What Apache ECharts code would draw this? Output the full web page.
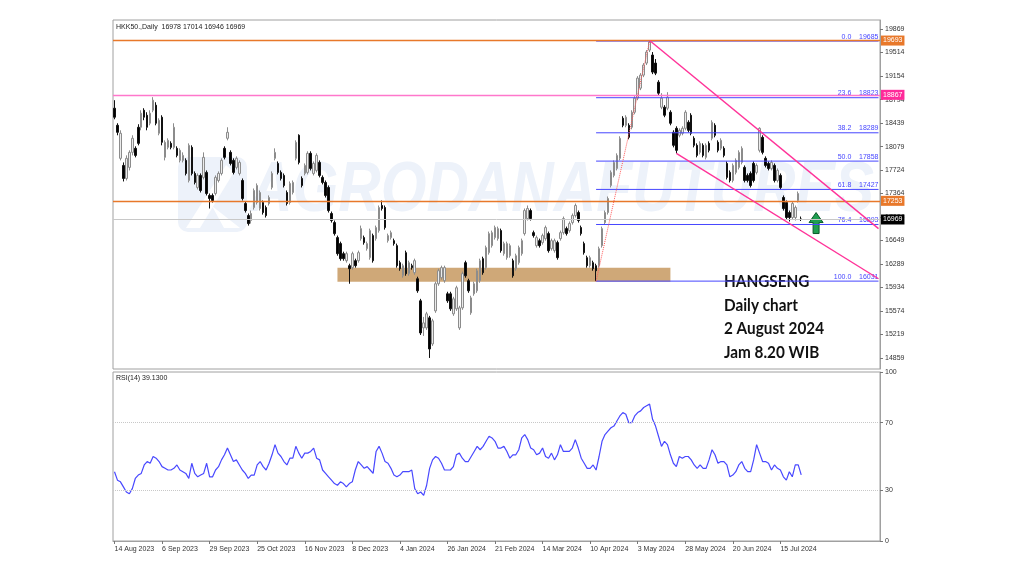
<!DOCTYPE html>
<html>
<head>
<meta charset="utf-8">
<script src="https://cdn.jsdelivr.net/npm/echarts@6/dist/echarts.min.js"></script>
<style>
  html, body { margin: 0; padding: 0; background: #fff; }
  #chart { width: 1024px; height: 576px; }
</style>
</head>
<body>
<div id="chart"></div>
<script>
// HK50 daily bars, [open, close, low, high]
const candles = [
  [18663,18526,18495,18785],[18403,18296,18251,18434],[17900,18281,17869,18327],[17792,17594,17548,17838],
  [17594,17900,17563,17945],[17762,17991,17716,18022],[17991,18205,17945,18251],[18052,17945,17915,18083],
  [18373,18128,18098,18419],[18373,18587,18327,18632],[18632,18526,18480,18663],[18556,18373,18327,18602],
  [18434,18587,18403,18632],[18632,18785,18602,18831],[18709,18434,18403,18754],[18281,18480,18251,18510],
  [18526,18144,18098,18556],[17915,18144,17869,18174],[18067,18174,18037,18205],[18128,18067,18037,18159],
  [18067,18373,18037,18434],[18052,17945,17915,18083],[17869,18022,17838,18052],[17869,17945,17838,17991],
  [17869,17670,17640,17900],[17563,18098,17533,18128],[18067,17670,17640,18098],[17670,17533,17503,17701],
  [17457,17640,17426,17670],[17640,17411,17380,17670],[17610,17915,17579,17991],[17686,17365,17335,17716],
  [17335,17289,17136,17365],[17335,17258,17227,17365],[17365,17610,17335,17640],[17563,17670,17533,17701],
  [17670,17869,17640,17900],[18052,17915,17884,18083],[18205,18296,18174,18373],[17991,17822,17792,18022],
  [17869,17686,17655,17900],[17762,17900,17731,17930],[17670,17838,17640,17869],[17563,17289,17258,17594],
  [17212,17105,17075,17243],[17029,16907,16876,17060],[16953,17060,16907,17105],[17151,17411,17120,17441],
  [17227,17487,17197,17518],[17136,17380,17105,17411],[17227,17075,17044,17258],[17151,17029,16999,17182],
  [17212,17304,17182,17335],[17457,17670,17426,17701],[17900,17991,17869,18052],[17822,17686,17655,17853],
  [17686,17594,17563,17716],[17640,17487,17457,17670],[17380,17212,17182,17411],[17227,17518,17197,17548],
  [17380,17533,17350,17563],[17900,18144,17869,18174],[18251,17838,17808,18266],[17594,17487,17457,17625],
  [17670,17792,17640,17822],[17686,17976,17655,18007],[17976,17746,17716,18007],[17670,17822,17640,17853],
  [17716,17945,17686,17976],[17838,17640,17610,17869],[17610,17533,17503,17640],[17533,17335,17304,17563],
  [17457,17105,17075,17487],[17060,16953,16922,17090],[16922,16754,16724,16953],[16693,16449,16418,16724],
  [16602,16373,16342,16632],[16449,16373,16342,16479],[16342,16449,16312,16479],[16266,16220,15991,16296],
  [16236,16449,16205,16479],[16342,16266,16236,16373],[16342,16464,16312,16495],[16678,16830,16647,16876],
  [16693,16617,16586,16724],[16525,16602,16495,16632],[16388,16800,16357,16830],[16724,16342,16312,16754],
  [16678,16846,16647,16876],[16800,17151,16769,17182],[17182,17136,17105,17258],[17151,16846,16815,17182],
  [16647,16724,16617,16754],[16693,16769,16663,16800],[16647,16602,16571,16678],[16571,16266,16236,16602],
  [16312,16220,16189,16342],[16113,16266,16083,16296],[16464,16144,16113,16495],[16144,16312,16113,16342],
  [16266,16236,16205,16296],[16159,16342,16128,16373],[16067,15884,15853,16098],[15731,15242,15211,15761],
  [15319,15395,15196,15486],[15319,15533,15288,15563],[15472,14998,14861,15502],[15074,15426,15044,15457],
  [15578,15991,15548,16022],[15991,16189,15960,16220],[16083,16236,16052,16266],[16037,16236,16006,16266],
  [15838,15731,15700,15869],[15838,15609,15578,15869],[15533,15761,15502,15792],[15609,15930,15578,15960],
  [15319,15624,15288,15655],[15624,16144,15594,16175],[16312,16113,16083,16342],[16037,15884,15853,16067],
  [15548,15776,15518,15808],[15838,15991,15808,16022],[15884,16189,15853,16220],[16037,16342,16006,16373],
  [16373,16159,16128,16403],[16236,16541,16205,16571],[16464,16754,16434,16785],[16571,16769,16541,16800],
  [16693,16846,16663,16876],[16678,16830,16647,16861],[16800,16495,16464,16830],[16449,16602,16418,16632],
  [16388,16602,16357,16632],[16418,16571,16388,16602],[16342,16113,16083,16373],[16220,16418,16189,16449],
  [16312,16541,16281,16571],[16449,16647,16418,16678],[16754,17105,16724,17136],[16983,17136,16953,17182],
  [17105,16983,16953,17136],[16769,16724,16693,16800],[16571,16693,16541,16724],[16647,16571,16541,16678],
  [16617,16724,16586,16754],[16678,16846,16647,16876],[16754,16495,16464,16785],[16525,16647,16495,16678],
  [16495,16647,16464,16678],[16617,16388,16357,16647],[16678,16769,16647,16800],[16769,16983,16739,17014],
  [16830,16754,16724,16861],[16800,16907,16769,16938],[16922,17029,16892,17060],[17029,17182,16999,17212],
  [17075,16953,16922,17105],[16846,16754,16724,16876],[16602,16464,16434,16632],[16388,16266,16236,16418],
  [16266,16388,16236,16418],[16312,16220,16189,16342],[16266,16189,16031,16296],[16266,16525,16236,16556],
  [16571,16830,16541,16861],[16922,17075,16892,17105],[17075,17289,17044,17319],[17487,17686,17457,17716],
  [17640,17838,17610,17869],[17746,17945,17716,17976],[17900,18205,17869,18236],[18510,18403,18373,18541],
  [18403,18526,18373,18556],[18403,18220,18190,18434],[18373,18602,18342,18632],[18602,18816,18571,18846],
  [18816,19121,18785,19151],[18968,19167,18938,19197],[19167,19320,19136,19350],[19350,19518,19320,19548],
  [19548,19671,19518,19693],[19472,19213,19182,19518],[19350,19197,19167,19411],[19060,18892,18861,19090],
  [18678,18816,18648,18892],[18678,18556,18526,18709],[18663,18831,18632,18907],[18602,18434,18403,18632],
  [18296,18098,18067,18327],[18357,18022,17976,18388],[18251,18327,18220,18357],[18281,18357,18251,18388],
  [18357,18602,18327,18632],[18449,18327,18296,18480],[18556,18281,18251,18587],[18205,18098,18067,18236],
  [18098,17945,17915,18128],[17991,18128,17960,18159],[18098,17945,17915,18128],[17915,18098,17884,18128],
  [18128,18022,17991,18159],[18205,18449,18174,18480],[18403,18251,18220,18434],[18144,18022,17991,18174],
  [18052,18174,18022,18205],[18052,17945,17915,18083],[17822,17610,17579,17853],[17686,17563,17533,17716],
  [17563,17792,17533,17822],[17686,17869,17655,17900],[17762,17991,17731,18022],[17838,18052,17808,18083],
  [17762,17563,17533,17792],[17640,17563,17533,17670],[17670,17487,17457,17701],[17822,17563,17533,17853],
  [17686,17792,17655,17822],[18022,18357,17991,18373],[18220,17991,17960,18251],[17900,17792,17762,17930],
  [17822,17746,17716,17853],[17746,17838,17716,17869],[17792,17563,17533,17822],[17563,17716,17533,17746],
  [17640,17457,17426,17670],[17304,17136,17105,17335],[17227,16999,16968,17258],[17075,16999,16938,17105],
  [16999,17212,16968,17243],[16999,17151,16953,17182],[17258,17365,17227,17395],[16978,16969,16946,17014]
];

// RSI(14), one value per bar
const rsiValues = [
  41,36,35,32,29,28,31,37,39,40, 45,47,46,50,49,47,44,43,42,42,
  43,45,42,41,40,37,46,40,38,39, 40,46,38,38,42,44,48,51,55,51,
  47,48,45,42,40,37,39,39,45,47, 44,42,46,51,57,52,50,47,45,49,
  49,56,52,49,52,52,53,55,49,48, 42,40,38,36,34,33,35,34,32,34,
  35,42,47,45,43,44,42,40,53,56, 52,47,46,43,39,38,39,41,41,41,
  42,31,28,29,27,33,43,48,50,49, 46,42,42,42,44,51,52,49,47,47,
  50,53,56,54,56,59,62,61,59,55, 55,56,53,49,51,51,54,61,63,60,
  55,54,51,52,55,50,49,52,48,51, 57,53,53,53,55,60,55,49,46,43,
  43,45,42,50,59,63,65,67,68,71, 74,76,75,70,70,74,76,77,79,80,
  81,72,68,62,56,59,57,51,46,44, 50,49,50,50,48,45,43,45,43,43,
  48,54,51,46,47,47,45,38,39,41, 45,47,43,41,41,48,57,52,47,47,
  46,42,45,43,42,38,36,41,38,45, 45,39.13
];

const dateLabels = ['14 Aug 2023', '6 Sep 2023', '29 Sep 2023', '25 Oct 2023', '16 Nov 2023',
  '8 Dec 2023', '4 Jan 2024', '26 Jan 2024', '21 Feb 2024', '14 Mar 2024', '10 Apr 2024',
  '3 May 2024', '28 May 2024', '20 Jun 2024', '15 Jul 2024'];
const priceTicks = [19869, 19514, 19154, 18794, 18439, 18079, 17724, 17364, 17004,
  16649, 16289, 15934, 15574, 15219, 14859];
const rsiTicks = [100, 70, 30, 0];
const rsiLevels = [70, 30];

// drawn objects
const levelLines = [19693, 18867, 17253, 16969];
const fibRatios = ['0.0', '23.6', '38.2', '50.0', '61.8', '76.4', '100.0'];
const fibPrices = [19685, 18823, 18289, 17858, 17427, 16893, 16031];
const fibStart = 162;
const fibTop = 180;
const upperChannel = [[180, 19693], [257, 16830]];
const lowerChannel = [[189, 17976], [257, 16067]];
const supportZone = [[75, 16236], [187, 16022]];
const arrowTip = [236, 17075];

const totalSlots = 258;   // bars plus empty space on the right
const labelEvery = 16;
const slots = [];
for (let i = 0; i < totalSlots; i++) slots.push(String(i));

const FONT = '"Liberation Sans", Arial, sans-serif';
const ORANGE = '#e8782a';
const FIB = '#4646ff';

function level(value, lineColor, tagColor, width) {
    return {
        yAxis: value,
        lineStyle: { color: lineColor, width: width, type: 'solid' },
        label: {
            show: true, position: 'end', distance: 1, formatter: String(value),
            backgroundColor: tagColor, color: '#fff', fontSize: 7, fontFamily: FONT,
            padding: [2, 2, 1, 2]
        }
    };
}

const markLines = [
    level(levelLines[0], ORANGE, ORANGE, 1.3),
    level(levelLines[1], '#ff77cc', '#ff2a9a', 1.3),
    level(levelLines[2], ORANGE, ORANGE, 1.3),
    level(levelLines[3], '#c8c8c8', '#000', 1)
];
markLines.push([
    { coord: [fibStart, fibPrices[6]], lineStyle: { color: '#ff5a5a', width: 1, type: 'dotted' }, label: { show: false } },
    { coord: [fibTop, fibPrices[0]] }
]);
[upperChannel, lowerChannel].forEach(function (c) {
    markLines.push([
        { coord: c[0], lineStyle: { color: '#ff3399', width: 1.4, type: 'solid' }, label: { show: false } },
        { coord: c[1] }
    ]);
});

// fibonacci levels as short line series from the swing low to the right edge
const fibSeries = fibPrices.map(function (p, k) {
    return {
        type: 'line', xAxisIndex: 0, yAxisIndex: 0, silent: true,
        symbol: 'circle', symbolSize: 0, showSymbol: true,
        lineStyle: { color: FIB, width: 1 },
        itemStyle: { color: FIB },
        emphasis: { disabled: true },
        label: { show: false },
        data: [
            [fibStart, p],
            {
                value: [totalSlots - 1, p],
                label: {
                    show: true, position: 'top', align: 'right', distance: 1, offset: [0, 0],
                    formatter: fibRatios[k] + '    ' + p,
                    color: FIB, fontSize: 7, fontFamily: FONT
                }
            }
        ]
    };
});

const chart = echarts.init(document.getElementById('chart'), null, { renderer: 'canvas' });

const option = {
    animation: false,
    backgroundColor: '#fff',
    textStyle: { fontFamily: FONT },
    grid: [
        { left: 113, right: 144, top: 20, height: 349, show: true, borderColor: '#a0a0a0', borderWidth: 1 },
        { left: 113, right: 144, top: 372, height: 169, show: true, borderColor: '#a0a0a0', borderWidth: 1 }
    ],
    xAxis: [
        {
            type: 'category', gridIndex: 0, data: slots, boundaryGap: true,
            axisLine: { show: false }, axisTick: { show: false }, axisLabel: { show: false }
        },
        {
            type: 'category', gridIndex: 1, data: slots, boundaryGap: true,
            axisLine: { lineStyle: { color: '#a0a0a0' } },
            axisTick: {
                show: true, alignWithLabel: true, length: 3, lineStyle: { color: '#777' },
                interval: function (i) { return i % labelEvery === 0 && i / labelEvery < dateLabels.length; }
            },
            axisLabel: {
                interval: function (i) { return i % labelEvery === 0 && i / labelEvery < dateLabels.length; },
                formatter: function (v, i) { return dateLabels[i / labelEvery] || ''; },
                align: 'left', fontSize: 7, color: '#333', margin: 5
            }
        }
    ],
    yAxis: [
        {
            type: 'value', gridIndex: 0, position: 'right', min: 14693, max: 20006,
            splitLine: { show: false },
            axisLine: { show: true, lineStyle: { color: '#a0a0a0' } },
            axisTick: { show: true, length: 3, customValues: priceTicks, lineStyle: { color: '#777' } },
            axisLabel: { customValues: priceTicks, fontSize: 7, color: '#333', margin: 5,
                formatter: function (v) { return String(v); } }
        },
        {
            type: 'value', gridIndex: 1, position: 'right', min: 0, max: 100,
            splitLine: { show: false },
            axisLine: { show: true, lineStyle: { color: '#a0a0a0' } },
            axisTick: { show: true, length: 3, customValues: rsiTicks, lineStyle: { color: '#777' } },
            axisLabel: { customValues: rsiTicks, fontSize: 7, color: '#333', margin: 5,
                formatter: function (v) { return String(v); } }
        }
    ],
    series: [
        {
            type: 'candlestick', xAxisIndex: 0, yAxisIndex: 0, data: candles,
            barWidth: 2,
            itemStyle: {
                color: '#ececec', color0: '#000', borderColor: '#8c8c8c', borderColor0: '#111', borderWidth: 1
            },
            markLine: { symbol: ['none', 'none'], silent: true, animation: false, data: markLines },
            markArea: {
                silent: true,
                itemStyle: { color: '#cfa878' },
                data: [[{ coord: supportZone[0] }, { coord: supportZone[1] }]]
            }
        },
        {
            type: 'line', xAxisIndex: 1, yAxisIndex: 1, data: rsiValues,
            symbol: 'none', lineStyle: { color: '#4848ff', width: 1.2 },
            markLine: {
                symbol: ['none', 'none'], silent: true, label: { show: false },
                lineStyle: { color: '#c8c8c8', type: 'dotted', width: 1 },
                data: rsiLevels.map(function (v) { return { yAxis: v }; })
            }
        }
    ].concat(fibSeries),
    graphic: [
        // watermark
        {
            type: 'rect', z: -1, shape: { x: 178, y: 157, width: 69, height: 75, r: 10 },
            style: { fill: '#edf2fa' }
        },
        {
            type: 'polygon', z: -1,
            shape: { points: [[186, 228], [226, 165], [234, 172], [200, 228]] },
            style: { fill: '#fff' }
        },
        {
            type: 'polygon', z: -1,
            shape: { points: [[212, 206], [240, 228], [224, 228]] },
            style: { fill: '#fff' }
        },
        {
            type: 'text', z: -1, x: 250, y: 157, scaleX: 0.84,
            style: {
                text: 'AGRODANAFUTURES', font: 'italic bold 70px "Liberation Sans"',
                fill: '#edf2fa', verticalAlign: 'top'
            }
        },
        {
            type: 'text', x: 116, y: 24,
            style: { text: 'HKK50.,Daily  16978 17014 16946 16969', font: '7px ' + FONT, fill: '#222', verticalAlign: 'top' }
        },
        {
            type: 'text', x: 116, y: 375,
            style: { text: 'RSI(14) 39.1300', font: '7px ' + FONT, fill: '#222', verticalAlign: 'top' }
        },
        {
            type: 'text', x: 724, y: 270, scaleX: 0.9,
            style: {
                text: 'HANGSENG\nDaily chart\n2 August 2024\nJam 8.20 WIB',
                font: 'bold 17px Lato', fill: '#111', lineHeight: 23.5, verticalAlign: 'top'
            }
        }
    ]
};

chart.setOption(option);

// green up arrow next to the last bars
const tip = chart.convertToPixel({ xAxisIndex: 0, yAxisIndex: 0 }, arrowTip);
const tx = tip[0], ty = tip[1];
chart.setOption({
    graphic: option.graphic.concat([{
        type: 'polygon',
        shape: {
            points: [[tx, ty], [tx + 7, ty + 10], [tx + 3, ty + 10], [tx + 3, ty + 21],
                [tx - 3, ty + 21], [tx - 3, ty + 10], [tx - 7, ty + 10]]
        },
        style: { fill: '#1f9e50', stroke: '#0b5a2a', lineWidth: 1 }
    }])
});
</script>
</body>
</html>
